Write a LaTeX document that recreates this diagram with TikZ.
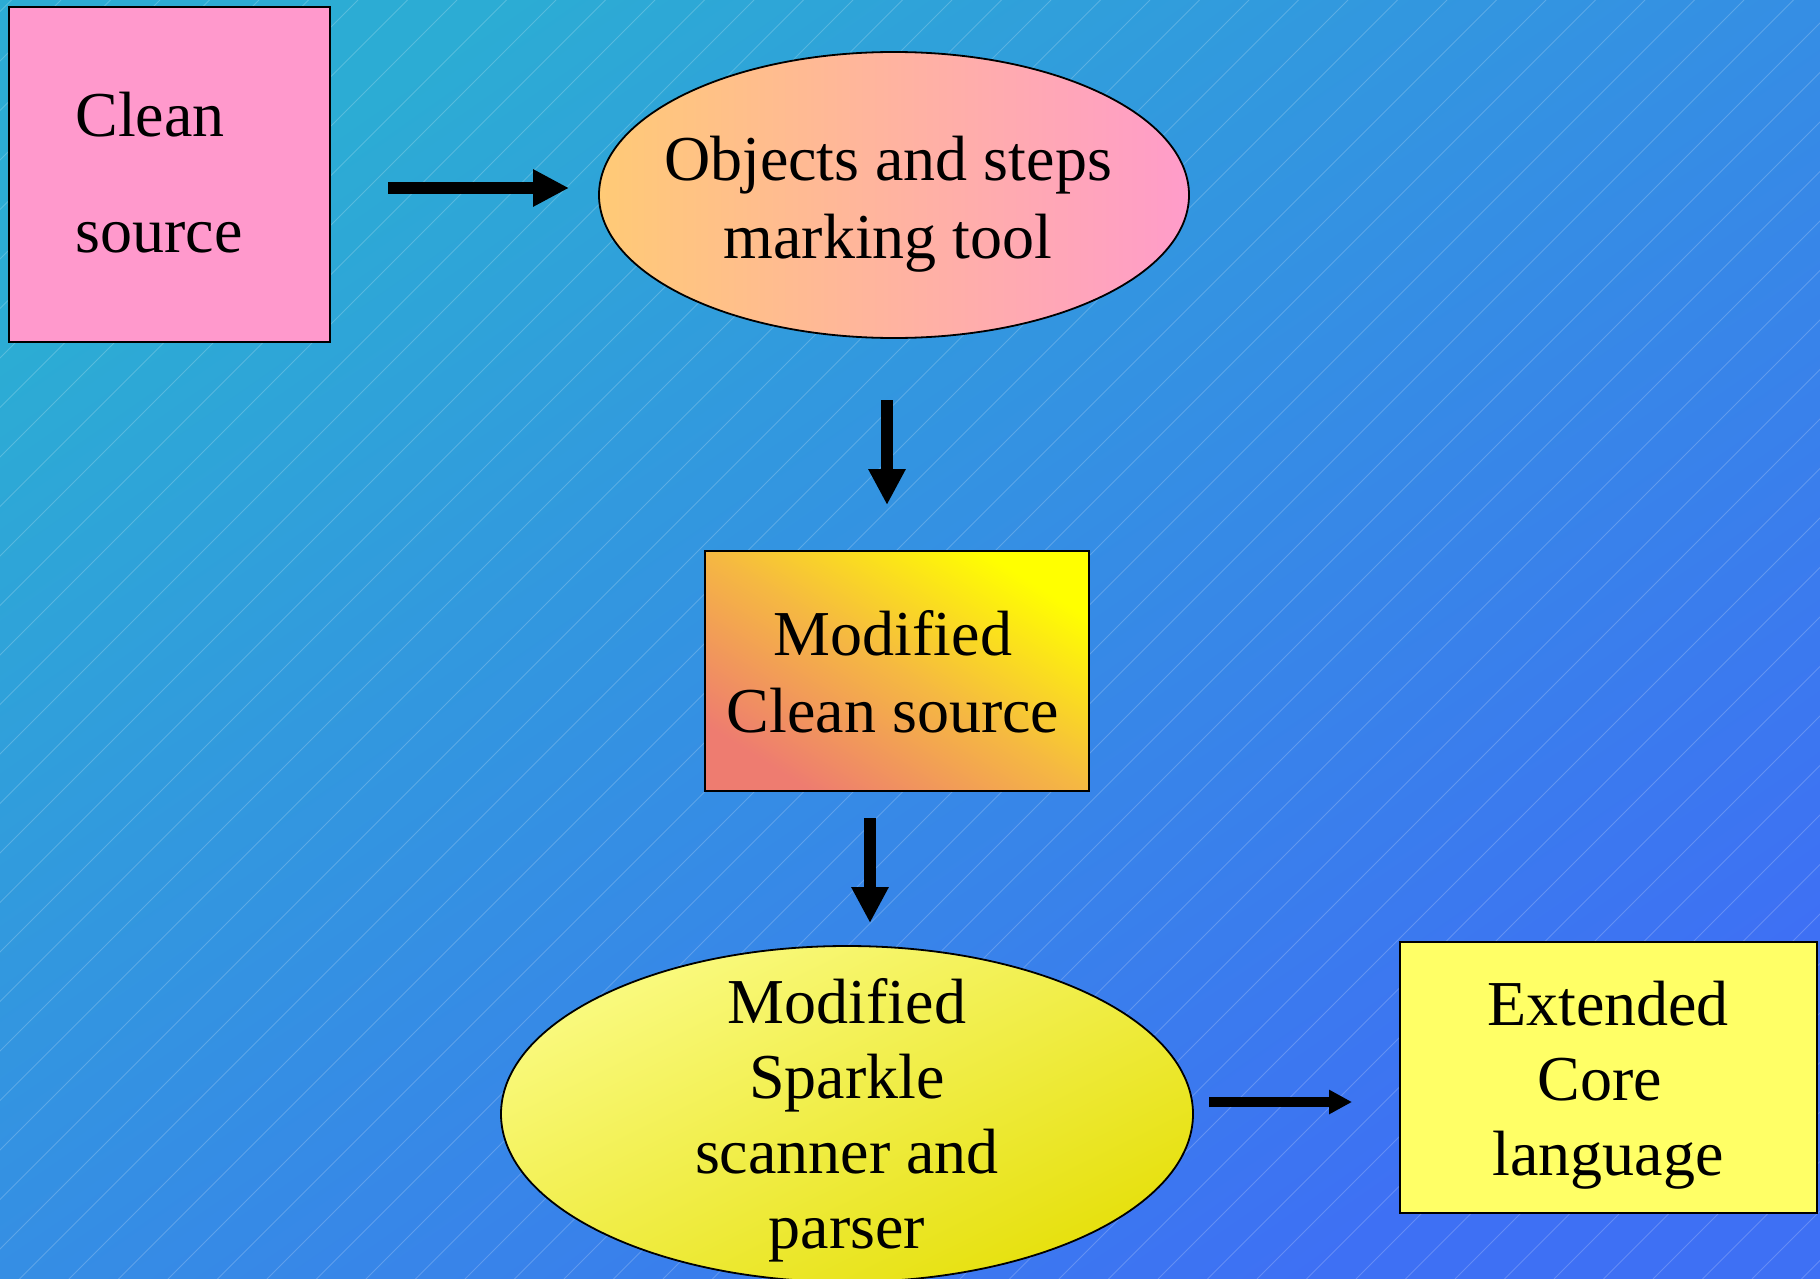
\documentclass[tikz,border=0pt]{standalone}
\usepackage{fontspec}
\setmainfont{Liberation Serif}
\usetikzlibrary{shapes.geometric,arrows.meta}
\definecolor{bgA}{RGB}{44,172,212}
\definecolor{bgB}{RGB}{62,112,244}
\definecolor{pinkfill}{RGB}{255,153,204}
\definecolor{peach}{RGB}{255,202,118}
\definecolor{rose}{RGB}{255,156,202}
\definecolor{yelA}{RGB}{255,255,0}
\definecolor{orangemid}{RGB}{245,184,66}
\definecolor{salmon}{RGB}{238,124,112}
\definecolor{lemonA}{RGB}{250,250,128}
\definecolor{lemonB}{RGB}{230,224,12}
\definecolor{paleyellow}{RGB}{255,255,102}
\begin{document}
\begin{tikzpicture}[x=0.5pt,y=-0.5pt,
  boxshape/.style={draw=black,line width=0.9pt,inner sep=0pt,rectangle},
  ellshape/.style={draw=black,line width=0.9pt,inner sep=0pt,ellipse},
  txt/.style={inner sep=0pt,align=center,text=black,font=\fontsize{32pt}{39pt}\selectfont},
  bigarrow/.style={line width=6pt,-{Triangle[length=18pt,width=17.5pt]}},
  smallarrow/.style={line width=5pt,-{Triangle[length=11.5pt,width=11.5pt]}},
  hatch/.style={white,opacity=0.2,line width=0.5pt}]
\useasboundingbox (0,0) rectangle (1820,1279);
% background
\shade[top color=bgA, bottom color=bgB, shading angle=35] (0,0) rectangle (1820,1279);
\begin{scope}
\clip (0,0) rectangle (1820,1279);
\foreach \c in {11.5,61,...,3150} \draw[hatch] (\c,0) -- ({\c-1279},1279);
\end{scope}
% shapes
\node[boxshape, fill=pinkfill, minimum width=160.5pt, minimum height=167.5pt] (clean) at (169.5,174.5) {};
\node[ellshape, left color=peach, right color=rose, minimum width=295pt, minimum height=143pt] (tool) at (894,195) {};
\node[boxshape, top color=yelA, bottom color=salmon, middle color=orangemid, shading angle=-32, minimum width=192pt, minimum height=120pt] (modclean) at (897,671) {};
\node[ellshape, top color=lemonA, bottom color=lemonB, shading angle=26, minimum width=346pt, minimum height=168pt] (sparkle) at (847,1114) {};
\node[boxshape, fill=paleyellow, minimum width=208.5pt, minimum height=135.5pt] (core) at (1608.5,1077.5) {};
% texts (anchor=base is the baseline of the last line)
\node[txt, align=left, anchor=base west, font=\fontsize{32pt}{58pt}\selectfont] (cleantxt) at (75,252) {Clean\\source};
\node[txt, anchor=base] (tooltxt) at (888,258) {Objects and steps\\marking tool};
\node[txt, anchor=base, font=\fontsize{32pt}{38.5pt}\selectfont] (modcleantxt) at (893,732) {Modified\\Clean source};
\node[txt, anchor=base, font=\fontsize{32pt}{37.5pt}\selectfont] (sparkletxt) at (847,1248) {Modified\\Sparkle\\scanner and\\parser};
\node[txt, anchor=base, font=\fontsize{32pt}{37.5pt}\selectfont] (coretxt) at (1608,1175) {Extended\\Core\makebox[8pt]{}\\language};
% connectors
\coordinate (a1s) at (388,188); \coordinate (a1e) at (569,188);
\coordinate (a2s) at (887,400); \coordinate (a2e) at (887,505);
\coordinate (a3s) at (870,818); \coordinate (a3e) at (870,923);
\coordinate (a4s) at (1209,1102); \coordinate (a4e) at (1352,1102);
\draw[bigarrow] (a1s) -- (a1e);
\draw[bigarrow] (a2s) -- (a2e);
\draw[bigarrow] (a3s) -- (a3e);
\draw[smallarrow] (a4s) -- (a4e);
\end{tikzpicture}
\end{document}
